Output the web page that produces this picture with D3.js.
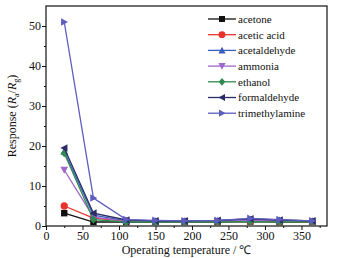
<!DOCTYPE html>
<html>
<head>
<meta charset="utf-8">
<script src="https://cdn.jsdelivr.net/npm/d3@7"></script>
<style>
  body { margin: 0; background: #fff; }
  text { font-family: "Liberation Serif", "Times New Roman", serif; fill: #111; }
</style>
</head>
<body>
<div id="container"></div>
<script>
/* DATA */
const temps = [25, 65, 110, 150, 190, 235, 280, 320, 365];
const gases = ["acetone", "acetic acid", "acetaldehyde", "ammonia", "ethanol", "formaldehyde", "trimethylamine"];
const acetone        = [3.2, 1.0, 1.0, 1.0, 1.0, 1.0, 1.1, 1.0, 1.0];
const aceticAcid     = [5.0, 2.0, 1.2, 1.1, 1.1, 1.1, 1.2, 1.1, 1.0];
const acetaldehyde   = [18.6, 2.7, 1.3, 1.2, 1.2, 1.3, 1.6, 1.4, 1.2];
const ammonia        = [14.0, 2.2, 1.2, 1.1, 1.1, 1.2, 1.4, 1.2, 1.1];
const ethanol        = [18.2, 1.6, 1.0, 1.0, 1.0, 1.0, 1.1, 1.0, 1.0];
const formaldehyde   = [19.5, 3.2, 1.5, 1.3, 1.3, 1.4, 1.8, 1.5, 1.3];
const trimethylamine = [51.0, 7.0, 1.6, 1.4, 1.3, 1.4, 1.9, 1.6, 1.3];
const xTicks = [0, 50, 100, 150, 200, 250, 300, 350];
const yTicks = [0, 10, 20, 30, 40, 50];

const seriesValues = [acetone, aceticAcid, acetaldehyde, ammonia, ethanol, formaldehyde, trimethylamine];
const colors = ["#111111", "#e8332c", "#3b5cc0", "#a066c8", "#2f8a4f", "#2b2b66", "#5d5dbf"];
const shapes = ["square", "circle", "up", "down", "diamond", "left", "right"];

/* CONSTANTS */
const width = 343, height = 258;
const margin = { top: 6, right: 16, bottom: 32, left: 46 };

const svg = d3.select("#container").append("svg")
  .attr("width", width)
  .attr("height", height);

const xScale = d3.scaleLinear().domain([0, 385]).range([margin.left, width - margin.right]);
const yScale = d3.scaleLinear().domain([0, 55]).range([height - margin.bottom, margin.top]);

// marker path for each shape, centered on 0,0
function marker(shape, s) {
  switch (shape) {
    case "square": return `M${-s},${-s}H${s}V${s}H${-s}Z`;
    case "circle": return d3.symbol(d3.symbolCircle, Math.PI * s * s * 1.3)();
    case "up": return `M0,${-s * 1.2}L${s * 1.2},${s}L${-s * 1.2},${s}Z`;
    case "down": return `M0,${s * 1.2}L${s * 1.2},${-s}L${-s * 1.2},${-s}Z`;
    case "diamond": return `M0,${-s * 1.3}L${s * 1.1},0L0,${s * 1.3}L${-s * 1.1},0Z`;
    case "left": return `M${-s * 1.2},0L${s},${-s * 1.2}L${s},${s * 1.2}Z`;
    case "right": return `M${s * 1.2},0L${-s},${-s * 1.2}L${-s},${s * 1.2}Z`;
  }
}

// + AXES
const xAxis = svg.append("g")
  .attr("transform", `translate(0,${height - margin.bottom})`)
  .call(d3.axisBottom(xScale).tickValues(xTicks).tickSize(4).tickSizeOuter(0));
svg.append("g")
  .attr("transform", `translate(0,${height - margin.bottom})`)
  .call(d3.axisBottom(xScale).tickValues(d3.range(25, 385, 50)).tickSize(2).tickFormat("").tickSizeOuter(0));

const yAxis = svg.append("g")
  .attr("transform", `translate(${margin.left},0)`)
  .call(d3.axisLeft(yScale).tickValues(yTicks).tickSize(4).tickSizeOuter(0));
svg.append("g")
  .attr("transform", `translate(${margin.left},0)`)
  .call(d3.axisLeft(yScale).tickValues(d3.range(5, 55, 10)).tickSize(2).tickFormat("").tickSizeOuter(0));

svg.selectAll(".domain").remove();
svg.selectAll(".tick line").attr("stroke", "#111");
xAxis.selectAll("text").attr("font-size", 12).attr("y", 5);
yAxis.selectAll("text").attr("font-size", 12).attr("x", -5);

// frame
svg.append("rect")
  .attr("x", margin.left).attr("y", margin.top)
  .attr("width", width - margin.left - margin.right)
  .attr("height", height - margin.top - margin.bottom)
  .attr("fill", "none").attr("stroke", "#111").attr("stroke-width", 1.2);

// + LINES AND MARKERS
const line = d3.line().x((d, i) => xScale(temps[i])).y(d => yScale(d));

gases.forEach((g, k) => {
  svg.append("path")
    .attr("d", line(seriesValues[k]))
    .attr("fill", "none")
    .attr("stroke", colors[k])
    .attr("stroke-width", 1.3);
  svg.selectAll(".m" + k)
    .data(seriesValues[k])
    .join("path")
    .attr("class", "m" + k)
    .attr("transform", (d, i) => `translate(${xScale(temps[i])},${yScale(d)})`)
    .attr("d", marker(shapes[k], 3.2))
    .attr("fill", colors[k]);
});

// + LEGEND
const legend = svg.append("g").attr("transform", "translate(208,19)");
gases.forEach((g, k) => {
  const row = legend.append("g").attr("transform", `translate(0,${k * 15.7})`);
  row.append("line").attr("x1", 0).attr("x2", 28).attr("stroke", colors[k]).attr("stroke-width", 1.3);
  row.append("path").attr("transform", "translate(14,0)").attr("d", marker(shapes[k], 3)).attr("fill", colors[k]);
  row.append("text").attr("x", 30).attr("dy", "0.35em").attr("font-size", 11).text(g);
});

// + AXIS LABELS
svg.append("text")
  .attr("x", (margin.left + width - margin.right) / 2)
  .attr("y", 254)
  .attr("text-anchor", "middle")
  .attr("font-size", 12)
  .text("Operating temperature / \u2103");

const yl = svg.append("text")
  .attr("transform", `translate(16,${(margin.top + height - margin.bottom) / 2}) rotate(-90)`)
  .attr("text-anchor", "middle")
  .attr("font-size", 12);
yl.append("tspan").text("Response (");
yl.append("tspan").attr("font-style", "italic").text("R");
yl.append("tspan").attr("font-size", 8).attr("dy", 3).text("a");
yl.append("tspan").attr("dy", -3).text("/");
yl.append("tspan").attr("font-style", "italic").text("R");
yl.append("tspan").attr("font-size", 8).attr("dy", 3).text("g");
yl.append("tspan").attr("dy", -3).text(")");
</script>
</body>
</html>
